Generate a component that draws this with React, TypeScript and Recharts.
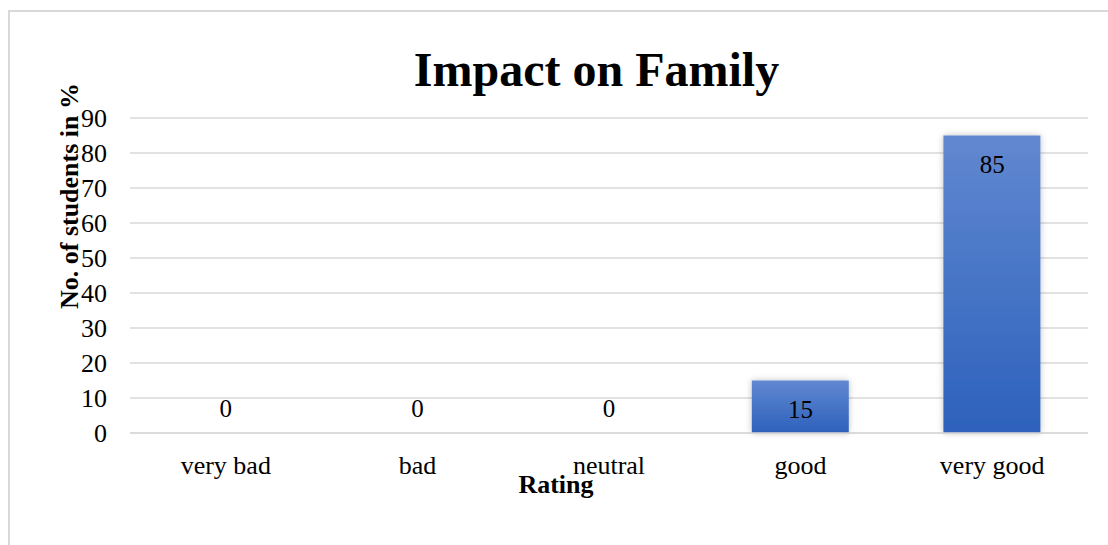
import React from "react";
import { ComposedChart, Bar, Line, XAxis, YAxis, CartesianGrid, LabelList } from "recharts";

// Impact on family ratings (% of students)
const ratings = ["very bad", "bad", "neutral", "good", "very good"];
const percentages = [0, 0, 0, 15, 85];
const yTicks = [0, 10, 20, 30, 40, 50, 60, 70, 80, 90];

const data = ratings.map((rating, i) => ({ rating, value: percentages[i] }));

const FONT = '"Liberation Serif", "Times New Roman", serif';

// value labels sit inside the bar top, or just above the baseline for short bars
const ValueLabel = (props: any) => {
  const { x, y, value } = props;
  const cy = value >= 10 ? y + 37 : y - 16;
  return (
    <text x={x} y={cy} textAnchor="middle" fontFamily={FONT} fontSize={25} fill="#000">
      {value}
    </text>
  );
};

const YTitle = (props: any) => {
  const { viewBox } = props;
  const x = viewBox.x + 78;
  const y = viewBox.y + 78;
  return (
    <text
      x={x}
      y={y}
      transform={`rotate(-90, ${x}, ${y})`}
      textAnchor="middle"
      fontFamily={FONT}
      fontSize={26}
      fontWeight="bold"
      fill="#000"
    >
      No. of students in %
    </text>
  );
};

const XTitle = (props: any) => {
  const { viewBox } = props;
  return (
    <text
      x={viewBox.x + viewBox.width / 2 - 53}
      y={viewBox.y + 60}
      textAnchor="middle"
      fontFamily={FONT}
      fontSize={26}
      fontWeight="bold"
      fill="#000"
    >
      Rating
    </text>
  );
};

export default function App() {
  return (
    <div style={{ position: "absolute", left: 0, top: 0, width: 1108, height: 545, background: "#fff", overflow: "hidden" }}>
      {/* outer frame */}
      <div style={{ position: "absolute", left: 8, top: 10, width: 1200, height: 600, border: "2px solid #d9d9d9", boxSizing: "border-box" }} />
      <div
        style={{
          position: "absolute",
          left: 0,
          top: 46,
          width: 1193,
          textAlign: "center",
          fontFamily: FONT,
          fontWeight: "bold",
          fontSize: 48,
          lineHeight: "48px",
          color: "#000",
        }}
      >
        Impact on Family
      </div>
      <div style={{ position: "absolute", left: 0, top: 0 }}>
        <ComposedChart width={1108} height={545} data={data} margin={{ top: 118, right: 20, bottom: 52, left: 0 }}>
          <defs>
            <linearGradient id="barFill" x1="0" y1="0" x2="0" y2="1">
              <stop offset="0%" stopColor="#6188D0" />
              <stop offset="100%" stopColor="#2D61BC" />
            </linearGradient>
            <filter id="barShadow" x="-20%" y="-20%" width="140%" height="140%">
              <feDropShadow dx="0" dy="0" stdDeviation="3" floodColor="#000" floodOpacity="0.25" />
            </filter>
          </defs>
          <CartesianGrid vertical={false} stroke="#d9d9d9" strokeWidth={1.5} />
          <XAxis
            dataKey="rating"
            height={60}
            interval={0}
            axisLine={{ stroke: "#d9d9d9", strokeWidth: 1.5 }}
            tickLine={false}
            tickSize={0}
            tickMargin={23}
            tick={{ fontFamily: FONT, fontSize: 26, fill: "#000" }}
            label={<XTitle />}
          />
          <YAxis
            width={130}
            domain={[0, 90]}
            ticks={yTicks}
            interval={0}
            axisLine={false}
            tickLine={false}
            tickSize={0}
            tickMargin={23}
            tick={{ fontFamily: FONT, fontSize: 26, fill: "#000" }}
            label={<YTitle />}
          />
          <Bar dataKey="value" barSize={97} fill="url(#barFill)" style={{ filter: "url(#barShadow)" }} isAnimationActive={false} />
          {/* invisible series that carries the value labels, so zero bars still get one */}
          <Line dataKey="value" stroke="none" dot={false} activeDot={false} isAnimationActive={false}>
            <LabelList dataKey="value" content={<ValueLabel />} />
          </Line>
        </ComposedChart>
      </div>
    </div>
  );
}
